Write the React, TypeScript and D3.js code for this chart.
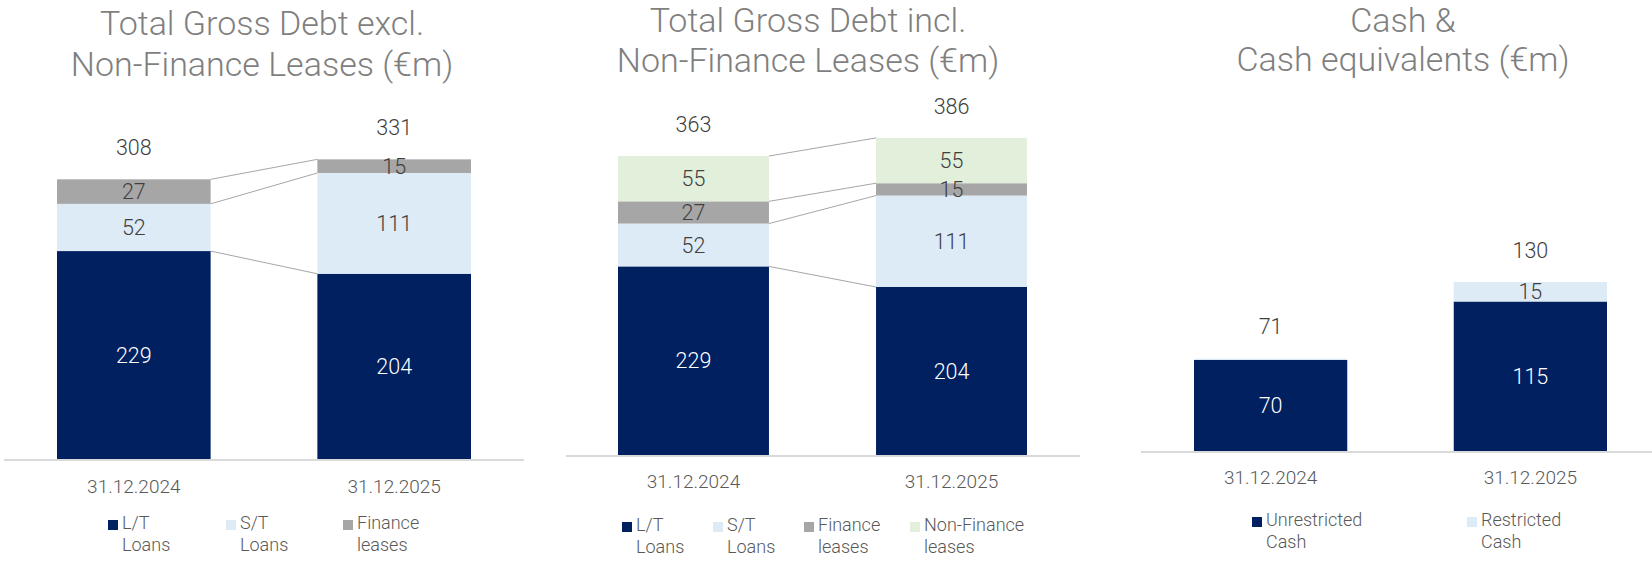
import React from "react";
import * as d3 from "d3";

// ---------- data ----------
const categories = ["31.12.2024", "31.12.2025"];

const ltLoans = [229, 204];
const stLoans = [52, 111];
const financeLeases = [27, 15];
const nonFinanceLeases = [55, 55];
const debtExclTotals = [308, 331];
const debtInclTotals = [363, 386];

const unrestrictedCash = [70, 115];
const restrictedCash = [1, 15];
const cashTotals = [71, 130];

const titles = [
  ["Total Gross Debt excl.", "Non-Finance Leases (€m)"],
  ["Total Gross Debt incl.", "Non-Finance Leases (€m)"],
  ["Cash &", "Cash equivalents (€m)"],
];

const legendLt = ["L/T", "Loans"];
const legendSt = ["S/T", "Loans"];
const legendFin = ["Finance", "leases"];
const legendNonFin = ["Non-Finance", "leases"];
const legendUnres = ["Unrestricted", "Cash"];
const legendRes = ["Restricted", "Cash"];

// ---------- style ----------
const NAVY = "#002060";
const LIGHTBLUE = "#DDEBF7";
const GRAY = "#A6A6A6";
const GREEN = "#E2EFDA";
const FONT = "Roboto, 'Liberation Sans', Arial, sans-serif";

type SeriesDef = { key: string; values: number[]; color: string; legend: string[]; labelColor: string };

type PanelProps = {
  title: string[];
  titleX: number;
  titleY: [number, number];
  series: SeriesDef[];
  totals: number[];
  xRange: [number, number];
  padInner: number;
  baseline: number;
  pxPerUnit: number;
  axisX: [number, number];
  catY: number;
  connectors: boolean;
  legendX: number[];
  legendY: number;
  minLabel: number;
};

function Panel(p: PanelProps) {
  const x = d3.scaleBand<string>().domain(categories).range(p.xRange).paddingInner(p.padInner).paddingOuter(0);
  const domMax = 400;
  const y = d3.scaleLinear().domain([0, domMax]).range([p.baseline, p.baseline - domMax * p.pxPerUnit]);

  const rows = categories.map((c, i) => {
    const r: any = { cat: c };
    p.series.forEach((s) => (r[s.key] = s.values[i]));
    return r;
  });
  const stacked = d3.stack<any>().keys(p.series.map((s) => s.key))(rows);
  const bw = x.bandwidth();

  return (
    <g>
      {p.title.map((t, i) => (
        <text key={i} x={p.titleX} y={p.titleY[i]} textAnchor="middle" fontSize={34} fontWeight={300} fill="#7F7F7F" fontFamily={FONT}>
          {t}
        </text>
      ))}
      {/* connectors */}
      {p.connectors &&
        stacked.map((layer, li) => {
          const x1 = (x(categories[0]) as number) + bw;
          const x2 = x(categories[1]) as number;
          return (
            <line key={"c" + li} x1={x1} x2={x2} y1={y(layer[0][1])} y2={y(layer[1][1])} stroke="#A6A6A6" strokeWidth={1} />
          );
        })}
      {/* bars */}
      {stacked.map((layer, li) =>
        layer.map((d, i) => (
          <rect
            key={li + "-" + i}
            x={x(categories[i])}
            y={y(d[1])}
            width={bw}
            height={Math.max(0, y(d[0]) - y(d[1]))}
            fill={p.series[li].color}
          />
        ))
      )}
      {/* segment labels */}
      {stacked.map((layer, li) =>
        layer.map((d, i) => {
          const v = p.series[li].values[i];
          if (v < p.minLabel) return null;
          return (
            <text
              key={"l" + li + "-" + i}
              x={(x(categories[i]) as number) + bw / 2}
              y={(y(d[0]) + y(d[1])) / 2}
              dy="0.36em"
              textAnchor="middle"
              fontSize={21.5}
              fontWeight={300}
              fill={p.series[li].labelColor}
              fontFamily={FONT}
            >
              {v}
            </text>
          );
        })
      )}
      {/* totals */}
      {categories.map((c, i) => {
        const top = stacked[stacked.length - 1][i][1];
        return (
          <text key={"t" + i} x={(x(c) as number) + bw / 2} y={y(top) - 32} dy="0.36em" textAnchor="middle" fontSize={21.5} fontWeight={300} fill="#404040" fontFamily={FONT}>
            {p.totals[i]}
          </text>
        );
      })}
      {/* axis */}
      <line x1={p.axisX[0]} x2={p.axisX[1]} y1={p.baseline + 1} y2={p.baseline + 1} stroke="#D9D9D9" strokeWidth={2} />
      {categories.map((c) => (
        <text key={"x" + c} x={(x(c) as number) + bw / 2} y={p.catY} textAnchor="middle" fontSize={19} fontWeight={300} fill="#595959" fontFamily={FONT}>
          {c}
        </text>
      ))}
      {/* legend */}
      {p.series.map((s, i) => (
        <g key={"lg" + i} transform={`translate(${p.legendX[i]},${p.legendY})`}>
          <rect x={0} y={-9} width={10} height={10} fill={s.color} />
          <text x={14} y={0} fontSize={18} fontWeight={300} fill="#595959" fontFamily={FONT}>
            {s.legend[0]}
          </text>
          <text x={14} y={22} fontSize={18} fontWeight={300} fill="#595959" fontFamily={FONT}>
            {s.legend[1]}
          </text>
        </g>
      ))}
    </g>
  );
}

export default function App() {
  const debtExcl: SeriesDef[] = [
    { key: "lt", values: ltLoans, color: NAVY, legend: legendLt, labelColor: "#FFFFFF" },
    { key: "st", values: stLoans, color: LIGHTBLUE, legend: legendSt, labelColor: "#404040" },
    { key: "fin", values: financeLeases, color: GRAY, legend: legendFin, labelColor: "#404040" },
  ];
  const debtIncl: SeriesDef[] = [
    ...debtExcl,
    { key: "nonfin", values: nonFinanceLeases, color: GREEN, legend: legendNonFin, labelColor: "#404040" },
  ];
  const cash: SeriesDef[] = [
    { key: "unres", values: unrestrictedCash, color: NAVY, legend: legendUnres, labelColor: "#FFFFFF" },
    { key: "res", values: restrictedCash, color: LIGHTBLUE, legend: legendRes, labelColor: "#404040" },
  ];

  return (
    <div style={{ position: "absolute", left: 0, top: 0 }}>
      <svg width={1652} height={563} style={{ display: "block", background: "#FFFFFF" }}>
        <Panel
          title={titles[0]}
          titleX={262}
          titleY={[35, 76]}
          series={debtExcl}
          totals={debtExclTotals}
          xRange={[57, 471]}
          padInner={0.41}
          baseline={459}
          pxPerUnit={0.908}
          axisX={[4, 524]}
          catY={493}
          connectors={true}
          legendX={[108, 226, 343]}
          legendY={529}
          minLabel={3}
        />
        <Panel
          title={titles[1]}
          titleX={808}
          titleY={[32, 72]}
          series={debtIncl}
          totals={debtInclTotals}
          xRange={[618, 1027]}
          padInner={0.415}
          baseline={455}
          pxPerUnit={0.8236}
          axisX={[566, 1080]}
          catY={488}
          connectors={true}
          legendX={[622, 713, 804, 910]}
          legendY={531}
          minLabel={3}
        />
        <Panel
          title={titles[2]}
          titleX={1403}
          titleY={[32, 71]}
          series={cash}
          totals={cashTotals}
          xRange={[1194, 1607]}
          padInner={0.41}
          baseline={451}
          pxPerUnit={1.3}
          axisX={[1141, 1652]}
          catY={484}
          connectors={false}
          legendX={[1252, 1467]}
          legendY={526}
          minLabel={3}
        />
      </svg>
    </div>
  );
}
